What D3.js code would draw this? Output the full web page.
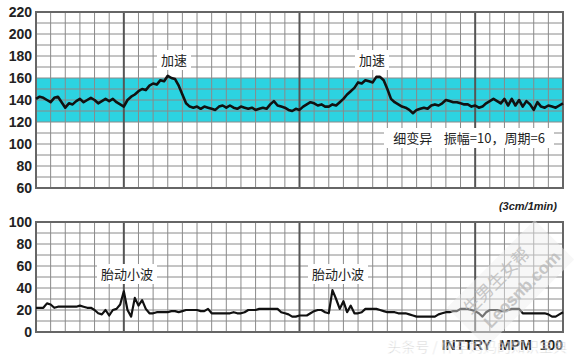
<!DOCTYPE html>
<html>
<head>
<meta charset="utf-8">
<script src="https://cdn.jsdelivr.net/npm/d3@7"></script>
<style>
  body { margin: 0; background: #fff; }
  svg { display: block; }
  text { white-space: pre; }
</style>
</head>
<body>
<svg id="chart" width="580" height="360"></svg>
<script>
// time axis in seconds, one sample every 2.5 s
const step = 2.5;
const fhrTicks = [60, 80, 100, 120, 140, 160, 180, 200, 220];
const tocoTicks = [0, 20, 40, 60, 80, 100];
const normalBand = [120, 160];

// fetal heart rate (bpm)
const fhr = [
  141, 143, 142, 140, 138, 142, 143, 138, 133, 137,
  136, 139, 141, 138, 140, 142, 140, 137, 139, 141,
  139, 141, 138, 136, 134, 140, 143, 145, 148, 150,
  149, 153, 155, 154, 158, 157, 162, 160, 159, 153,
  145, 137, 134, 133, 134, 132, 134, 133, 132, 131,
  134, 135, 133, 135, 133, 132, 134, 133, 132, 133,
  131, 132, 133, 132, 136, 139, 135, 134, 133, 131,
  130, 132, 131, 134, 136, 138, 137, 135, 136, 134,
  134, 136, 135, 138, 141, 145, 148, 151, 156, 155,
  158, 157, 156, 161, 161, 158, 150, 141, 138, 136,
  134, 133, 131, 128, 131, 132, 133, 132, 135, 136,
  135, 137, 140, 139, 138, 138, 137, 136, 136, 134,
  135, 133, 134, 137, 139, 141, 139, 137, 141, 135,
  141, 135, 140, 134, 139, 136, 131, 138, 134, 133,
  135, 134, 133, 135, 137
];

// fetal movement trace
const toco = [
  22, 22, 22, 26, 25, 22, 23, 23, 23, 23,
  23, 23, 24, 23, 22, 22, 20, 17, 16, 20,
  15, 20, 21, 25, 37, 20, 14, 31, 24, 29,
  21, 17, 17, 18, 18, 18, 18, 19, 19, 18,
  19, 20, 20, 20, 20, 19, 19, 21, 17, 17,
  17, 17, 17, 17, 18, 17, 17, 18, 20, 20,
  20, 21, 21, 21, 21, 21, 21, 18, 17, 16,
  14, 14, 15, 15, 15, 17, 19, 20, 20, 18,
  17, 38, 30, 21, 28, 18, 24, 17, 17, 18,
  21, 21, 21, 21, 20, 19, 18, 18, 18, 17,
  17, 17, 16, 15, 14, 14, 14, 14, 14, 14,
  16, 17, 18, 18, 19, 19, 21, 21, 21, 20,
  19, 17, 14, 18, 20, 20, 20, 19, 19, 20,
  21, 21, 21, 17, 17, 17, 17, 17, 17, 17,
  16, 14, 14, 16, 18
];

const svg = d3.select('#chart');
const cjk = '"Noto Sans CJK SC", sans-serif';
const latin = '"Liberation Sans", Arial, sans-serif';

const x = d3.scaleLinear().domain([0, 360]).range([36, 563]);
const yTop = d3.scaleLinear().domain([60, 220]).range([188, 12]);
const yBot = d3.scaleLinear().domain([0, 100]).range([332, 222]);

function panel(y, lo, hi, ticks, data, band) {
  const g = svg.append('g');

  g.append('rect')
    .attr('x', x(0)).attr('y', y(hi))
    .attr('width', x(360) - x(0)).attr('height', y(lo) - y(hi))
    .attr('fill', '#fff');

  if (band) {
    g.append('rect')
      .attr('x', x(0)).attr('y', y(band[1]))
      .attr('width', x(360) - x(0))
      .attr('height', y(band[0]) - y(band[1]))
      .attr('fill', '#2cd3e1');
  }

  g.selectAll('line.h')
    .data(d3.range(lo + 10, hi, 10))
    .join('line')
    .attr('x1', x(0)).attr('x2', x(360))
    .attr('y1', d => y(d)).attr('y2', d => y(d))
    .attr('stroke', '#8a8a8a').attr('stroke-width', 1);

  // heavier rule every two minutes
  const heavy = d => (d - 60) % 120 === 0;
  g.selectAll('line.v')
    .data(d3.range(10, 360, 10))
    .join('line')
    .attr('x1', d => x(d)).attr('x2', d => x(d))
    .attr('y1', y(hi)).attr('y2', y(lo))
    .attr('stroke', d => heavy(d) ? '#555' : '#8a8a8a')
    .attr('stroke-width', d => heavy(d) ? 2 : 1);

  g.append('rect')
    .attr('x', x(0)).attr('y', y(hi))
    .attr('width', x(360) - x(0)).attr('height', y(lo) - y(hi))
    .attr('fill', 'none').attr('stroke', '#666').attr('stroke-width', 2);

  const axis = g.append('g')
    .attr('transform', `translate(${x(0)},0)`)
    .call(d3.axisLeft(y).tickValues(ticks).tickSize(0).tickPadding(4));
  axis.select('.domain').remove();
  axis.selectAll('text')
    .attr('font-family', latin)
    .attr('font-weight', 'bold')
    .attr('font-size', 14)
    .attr('fill', '#222');

  const line = d3.line()
    .x((d, i) => x(i * step))
    .y(d => y(d));

  g.append('path')
    .datum(data)
    .attr('d', line)
    .attr('fill', 'none')
    .attr('stroke', '#111')
    .attr('stroke-width', band ? 2.6 : 2.2)
    .attr('stroke-linejoin', 'round');
}

panel(yTop, 60, 220, fhrTicks, fhr, normalBand);
panel(yBot, 0, 100, tocoTicks, toco, null);

// boxed annotation, cx given in pixels
function label(txt, cx, cy, w) {
  svg.append('rect')
    .attr('x', cx - w / 2).attr('y', cy - 10)
    .attr('width', w).attr('height', 20)
    .attr('fill', '#fff');
  svg.append('text')
    .attr('x', cx).attr('y', cy)
    .attr('dy', '0.36em')
    .attr('text-anchor', 'middle')
    .attr('font-family', cjk)
    .attr('font-size', 13)
    .attr('fill', '#222')
    .text(txt);
}

label('加速', 174, 60, 34);
label('加速', 372, 60, 34);
label('细变异    振幅=10，周期=6', 469, 138, 170);
label('胎动小波', 127, 274, 60);
label('胎动小波', 338, 274, 60);

svg.append('text')
  .attr('x', 557).attr('y', 206).attr('dy', '0.35em')
  .attr('text-anchor', 'end')
  .attr('font-family', latin)
  .attr('font-weight', 'bold').attr('font-style', 'italic')
  .attr('font-size', 11).attr('fill', '#222')
  .text('(3cm/1min)');

// watermarks
const wm = svg.append('g')
  .attr('transform', 'translate(512,285) rotate(-45)');
wm.append('rect')
  .attr('x', -62).attr('y', -30).attr('width', 124).attr('height', 56)
  .attr('fill', '#eee').attr('opacity', 0.45);
wm.append('text')
  .attr('x', -8).attr('y', -8).attr('text-anchor', 'middle')
  .attr('font-family', cjk).attr('font-size', 17)
  .attr('fill', '#bbb').attr('opacity', 0.8)
  .text('生男生女帮');
wm.append('text')
  .attr('x', 4).attr('y', 16).attr('text-anchor', 'middle')
  .attr('font-family', latin)
  .attr('font-size', 17).attr('font-weight', 'bold')
  .attr('fill', '#bbb').attr('opacity', 0.8)
  .text('Leosnb.com');

svg.append('text')
  .attr('x', 563).attr('y', 345).attr('dy', '0.35em')
  .attr('text-anchor', 'end')
  .attr('font-family', latin)
  .attr('font-weight', 'bold').attr('font-size', 14)
  .attr('fill', '#222')
  .text('INTTRY  MPM  100');

svg.append('text')
  .attr('x', 567).attr('y', 347).attr('dy', '0.35em')
  .attr('text-anchor', 'end')
  .attr('font-family', cjk).attr('font-size', 14)
  .attr('fill', '#999').attr('opacity', 0.55)
  .attr('stroke', '#fff').attr('stroke-width', 0.6)
  .text('头条号 / 怀孕妈妈的知识宝典');
</script>
</body>
</html>
